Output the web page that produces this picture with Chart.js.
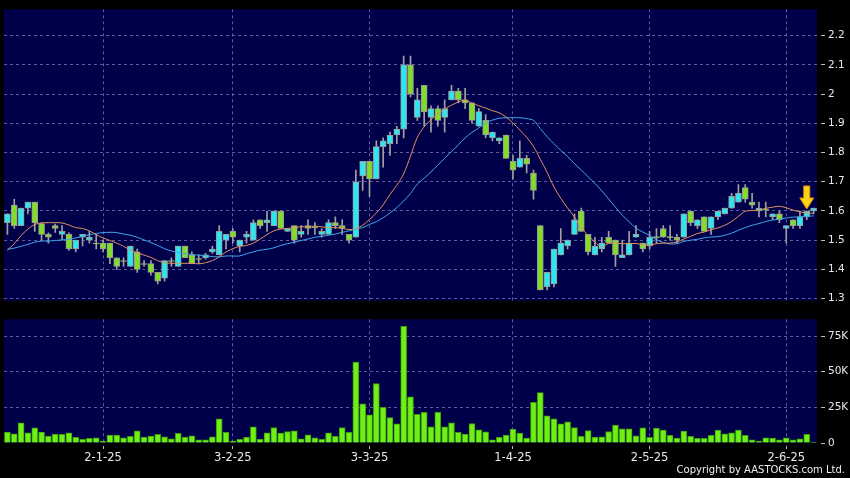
<!DOCTYPE html>
<html lang="en">
<head>
    <meta charset="UTF-8">
    <title>Candlestick chart</title>
    <script src="https://cdn.jsdelivr.net/npm/chart.js"></script>
    <style>
        body { margin: 0; background: #000; }
        #wrap { position: relative; width: 850px; height: 478px; background: #000; overflow: hidden; }
        #price { position: absolute; left: 0; top: 0; }
        #volume { position: absolute; left: 0; top: 310px; }
        #copy { position: absolute; right: 5px; top: 463px; font: 10px "DejaVu Sans", sans-serif; color: #eee; line-height: 14px; }
    </style>
</head>
<body>
<div id="wrap">
    <canvas id="price" width="850" height="310"></canvas>
    <canvas id="volume" width="850" height="168"></canvas>
    <div id="copy">Copyright by AASTOCKS.com Ltd.</div>
</div>
<script>
    const dates = [
        '10-12-24','11-12-24','12-12-24','13-12-24','16-12-24','17-12-24','18-12-24','19-12-24','20-12-24','23-12-24','24-12-24','27-12-24','30-12-24','31-12-24',
        '2-1-25','3-1-25','6-1-25','7-1-25','8-1-25','9-1-25','10-1-25','13-1-25','14-1-25','15-1-25','16-1-25','17-1-25','20-1-25','21-1-25','22-1-25','23-1-25','24-1-25','27-1-25','28-1-25',
        '3-2-25','4-2-25','5-2-25','6-2-25','7-2-25','10-2-25','11-2-25','12-2-25','13-2-25','14-2-25','17-2-25','18-2-25','19-2-25','20-2-25','21-2-25','24-2-25','25-2-25','26-2-25','27-2-25','28-2-25',
        '3-3-25','4-3-25','5-3-25','6-3-25','7-3-25','10-3-25','11-3-25','12-3-25','13-3-25','14-3-25','17-3-25','18-3-25','19-3-25','20-3-25','21-3-25','24-3-25','25-3-25','26-3-25','27-3-25','28-3-25','31-3-25',
        '1-4-25','2-4-25','3-4-25','7-4-25','8-4-25','9-4-25','10-4-25','11-4-25','14-4-25','15-4-25','16-4-25','17-4-25','21-4-25','22-4-25','23-4-25','24-4-25','25-4-25','28-4-25','29-4-25','30-4-25',
        '2-5-25','6-5-25','7-5-25','8-5-25','9-5-25','12-5-25','13-5-25','14-5-25','15-5-25','16-5-25','19-5-25','20-5-25','21-5-25','22-5-25','23-5-25','26-5-25','27-5-25','28-5-25','29-5-25','30-5-25',
        '2-6-25','3-6-25','4-6-25','5-6-25','6-6-25'
    ];
    const tickDates = ['2-1-25', '3-2-25', '3-3-25', '1-4-25', '2-5-25', '2-6-25'];

    const open = [
        1.56,1.62,1.55,1.61,1.63,1.557,1.52,1.55,1.52,1.52,
        1.47,1.51,1.50,1.49,1.49,1.49,1.44,1.43,1.41,1.46,
        1.42,1.42,1.39,1.37,1.43,1.41,1.48,1.45,1.437,1.44,
        1.46,1.45,1.50,1.53,1.48,1.51,1.50,1.57,1.56,1.55,
        1.60,1.53,1.55,1.52,1.55,1.546,1.52,1.52,1.56,1.55,
        1.52,1.51,1.72,1.77,1.71,1.82,1.83,1.86,1.88,2.10,
        1.92,2.03,1.92,1.95,1.92,1.98,2.01,1.98,1.97,1.89,
        1.91,1.85,1.84,1.86,1.77,1.75,1.78,1.73,1.55,1.34,
        1.35,1.45,1.48,1.52,1.60,1.52,1.45,1.47,1.51,1.50,
        1.44,1.45,1.51,1.49,1.48,1.512,1.54,1.512,1.51,1.51,
        1.60,1.55,1.58,1.54,1.58,1.59,1.61,1.63,1.68,1.63,
        1.60,1.606,1.58,1.59,1.54,1.57,1.55,1.58,1.60
    ];
    const high = [
        1.59,1.64,1.61,1.63,1.63,1.56,1.525,1.555,1.55,1.525,
        1.50,1.52,1.53,1.52,1.50,1.49,1.44,1.44,1.48,1.47,
        1.43,1.43,1.39,1.43,1.44,1.48,1.48,1.46,1.45,1.455,
        1.48,1.55,1.52,1.54,1.50,1.53,1.57,1.57,1.60,1.60,
        1.60,1.54,1.55,1.55,1.57,1.56,1.54,1.57,1.58,1.57,
        1.52,1.74,1.77,1.77,1.84,1.85,1.87,1.89,2.13,2.13,
        2.02,2.03,1.96,1.96,1.98,2.03,2.02,2.02,1.97,1.95,
        1.93,1.87,1.85,1.86,1.79,1.84,1.79,1.74,1.55,1.39,
        1.47,1.54,1.50,1.59,1.61,1.52,1.51,1.51,1.53,1.50,
        1.50,1.53,1.55,1.49,1.53,1.54,1.55,1.55,1.52,1.59,
        1.60,1.57,1.58,1.58,1.60,1.61,1.66,1.69,1.69,1.66,
        1.63,1.63,1.59,1.60,1.55,1.57,1.60,1.60,1.61
    ];
    const low = [
        1.52,1.54,1.55,1.59,1.53,1.50,1.49,1.527,1.50,1.465,
        1.46,1.48,1.49,1.47,1.46,1.42,1.40,1.41,1.41,1.39,
        1.41,1.38,1.35,1.36,1.41,1.41,1.44,1.42,1.42,1.435,
        1.455,1.45,1.47,1.49,1.46,1.49,1.50,1.54,1.53,1.55,
        1.54,1.53,1.49,1.51,1.52,1.52,1.51,1.52,1.54,1.52,
        1.49,1.51,1.67,1.65,1.71,1.75,1.79,1.83,1.85,1.99,
        1.91,1.89,1.87,1.89,1.87,1.98,1.97,1.95,1.90,1.89,
        1.85,1.84,1.83,1.78,1.71,1.75,1.73,1.64,1.33,1.33,
        1.34,1.45,1.47,1.52,1.53,1.45,1.45,1.46,1.49,1.41,
        1.44,1.45,1.51,1.46,1.47,1.49,1.51,1.50,1.49,1.51,
        1.55,1.54,1.53,1.52,1.57,1.59,1.61,1.63,1.63,1.61,
        1.58,1.58,1.57,1.56,1.49,1.54,1.54,1.57,1.59
    ];
    const close = [
        1.59,1.55,1.61,1.63,1.56,1.52,1.51,1.54,1.53,1.47,
        1.50,1.52,1.51,1.487,1.47,1.44,1.41,1.427,1.48,1.40,
        1.417,1.39,1.36,1.43,1.427,1.48,1.44,1.42,1.434,1.45,
        1.47,1.53,1.52,1.51,1.50,1.52,1.56,1.55,1.57,1.60,
        1.54,1.54,1.50,1.53,1.54,1.543,1.53,1.56,1.55,1.54,
        1.50,1.70,1.77,1.71,1.82,1.84,1.86,1.88,2.10,2.00,
        1.98,1.94,1.95,1.91,1.95,2.01,1.98,1.97,1.91,1.94,
        1.86,1.87,1.85,1.78,1.74,1.78,1.76,1.67,1.33,1.39,
        1.47,1.49,1.50,1.57,1.53,1.46,1.48,1.49,1.49,1.45,
        1.45,1.49,1.52,1.47,1.51,1.509,1.51,1.509,1.50,1.59,
        1.56,1.57,1.53,1.58,1.60,1.61,1.65,1.66,1.64,1.62,
        1.61,1.603,1.59,1.57,1.55,1.55,1.58,1.60,1.61
    ];
    const ma10 = [
        1.466,1.488,1.516,1.538,1.554,1.559,1.560,1.560,1.559,1.552,
        1.543,1.540,1.532,1.519,1.508,1.499,1.490,1.479,1.466,1.457,
        1.449,1.441,1.430,1.423,1.421,1.421,1.421,1.421,1.419,1.423,
        1.430,1.443,1.460,1.471,1.479,1.482,1.490,1.504,1.519,1.532,
        1.538,1.540,1.543,1.546,1.546,1.548,1.546,1.543,1.543,1.541,
        1.536,1.540,1.551,1.571,1.593,1.621,1.657,1.688,1.727,1.788,
        1.852,1.888,1.912,1.932,1.949,1.962,1.973,1.980,1.969,1.960,
        1.952,1.943,1.936,1.921,1.901,1.877,1.852,1.821,1.777,1.732,
        1.682,1.643,1.610,1.579,1.543,1.516,1.493,1.477,1.489,1.490,
        1.488,1.488,1.489,1.484,1.483,1.488,1.490,1.490,1.494,1.504,
        1.513,1.523,1.528,1.536,1.542,1.551,1.564,1.582,1.599,1.602,
        1.603,1.609,1.613,1.616,1.611,1.603,1.597,1.593,1.592
    ];
    const ma20 = [
        1.469,1.473,1.479,1.486,1.493,1.497,1.497,1.499,1.501,1.503,
        1.508,1.513,1.519,1.523,1.526,1.527,1.526,1.521,1.517,1.510,
        1.501,1.492,1.482,1.471,1.463,1.458,1.454,1.451,1.449,1.447,
        1.444,1.443,1.446,1.446,1.446,1.454,1.460,1.466,1.469,1.474,
        1.482,1.488,1.493,1.499,1.504,1.510,1.513,1.517,1.521,1.527,
        1.532,1.538,1.543,1.554,1.563,1.577,1.593,1.612,1.634,1.660,
        1.692,1.712,1.734,1.757,1.780,1.803,1.826,1.850,1.869,1.884,
        1.901,1.911,1.917,1.919,1.919,1.919,1.916,1.910,1.882,1.854,
        1.830,1.807,1.786,1.762,1.740,1.717,1.694,1.669,1.641,1.613,
        1.586,1.563,1.541,1.528,1.516,1.502,1.492,1.487,1.488,1.496,
        1.500,1.503,1.508,1.511,1.512,1.517,1.524,1.534,1.543,1.551,
        1.557,1.564,1.569,1.572,1.576,1.579,1.580,1.582,1.583
    ];
    const volume = [
        7600,6500,14100,7200,10600,7600,4900,6300,6000,7200,
        3900,2500,3200,3700,1400,5600,5600,3700,4600,8600,
        4200,4900,6000,4400,3000,6700,4200,5100,2300,2300,
        4400,16900,7400,1400,2500,4200,11300,2800,7200,10900,
        6900,8100,8600,3000,5800,3700,2500,7200,4600,10900,
        7400,56700,27500,19700,41700,25000,17800,13400,81900,32400,
        20100,21500,11300,21600,11400,14200,7400,6300,13700,9300,
        7900,2300,4000,5600,9800,7000,3500,28600,35300,19100,
        17000,13500,14900,10900,4700,8800,4200,4400,8100,12600,
        10000,10000,5100,10700,4000,10500,9100,5300,3500,8400,
        4700,3300,3300,5300,9100,6500,7200,9100,5300,2300,
        1400,3700,3500,2300,3700,2300,3000,6000,700
    ];
    const priceTicks = [1.3, 1.4, 1.5, 1.6, 1.7, 1.8, 1.9, 2, 2.1, 2.2];
    const volumeTicks = [0, 25000, 50000, 75000];
    const arrowIndex = 117;

    const upColor = '#2ee6f0';
    const downColor = '#82dc2a';
    const gridColor = 'rgba(120,120,185,0.75)';
    const textColor = '#e8e8e8';

    const plotBg = {
        id: 'plotBg',
        beforeDraw(chart) {
            const a = chart.chartArea;
            const ctx = chart.ctx;
            ctx.save();
            ctx.fillStyle = '#00004a';
            ctx.fillRect(a.left, a.top, a.right - a.left, a.bottom - a.top);
            ctx.restore();
        }
    };

    const arrow = {
        id: 'arrow',
        afterDatasetsDraw(chart) {
            const x = chart.scales.x.getPixelForValue(arrowIndex);
            const y = chart.scales.y.getPixelForValue(high[arrowIndex]) - 2;
            const ctx = chart.ctx;
            ctx.save();
            ctx.beginPath();
            ctx.moveTo(x - 3, y - 23);
            ctx.lineTo(x + 3, y - 23);
            ctx.lineTo(x + 3, y - 11);
            ctx.lineTo(x + 7, y - 11);
            ctx.lineTo(x, y);
            ctx.lineTo(x - 7, y - 11);
            ctx.lineTo(x - 3, y - 11);
            ctx.closePath();
            ctx.fillStyle = '#ffd21a';
            ctx.fill();
            ctx.strokeStyle = '#e08a00';
            ctx.lineWidth = 1;
            ctx.stroke();
            ctx.restore();
        }
    };

    function keepDateTicks(axis) {
        axis.ticks = axis.ticks.filter(t => tickDates.includes(dates[t.value]));
    }

    new Chart(document.getElementById('price'), {
        type: 'bar',
        data: {
            labels: dates,
            datasets: [
                { type: 'line', data: ma10, borderColor: '#e0925e', borderWidth: 1, pointRadius: 0, tension: 0.3, order: 0 },
                { type: 'line', data: ma20, borderColor: '#40a8ee', borderWidth: 1, pointRadius: 0, tension: 0.3, order: 0 },
                {
                    data: open.map((o, i) => [o, close[i]]),
                    backgroundColor: close.map((c, i) => c >= open[i] ? upColor : downColor),
                    borderColor: '#9a9a9a',
                    borderWidth: 1,
                    borderSkipped: false,
                    grouped: false,
                    barThickness: 6,
                    order: 1
                },
                {
                    data: low.map((l, i) => [l, high[i]]),
                    backgroundColor: '#a0a0a0',
                    barThickness: 1,
                    grouped: false,
                    order: 2
                }
            ]
        },
        options: {
            responsive: false,
            animation: false,
            events: [],
            layout: { padding: { left: 4, top: 6, bottom: 5, right: 0 } },
            plugins: { legend: { display: false }, tooltip: { enabled: false } },
            scales: {
                x: {
                    offset: true,
                    grid: { offset: false, color: gridColor, drawTicks: false },
                    border: { display: false, dash: [3, 3] },
                    ticks: { display: false, autoSkip: false },
                    afterBuildTicks: keepDateTicks,
                    afterFit: a => { a.height = 0; }
                },
                y: {
                    position: 'right',
                    min: 1.293,
                    max: 2.29,
                    afterBuildTicks: a => { a.ticks = priceTicks.map(v => ({ value: v })); },
                    grid: { color: gridColor, tickColor: '#bbbbbb', tickLength: 8, tickBorderDash: [4, 4], tickBorderDashOffset: 4 },
                    border: { display: false, dash: [3, 3] },
                    ticks: { color: textColor, padding: 3, font: { family: 'DejaVu Sans', size: 10.5 }, callback: v => String(v) },
                    afterFit: a => { a.width = 33; }
                }
            }
        },
        plugins: [plotBg, arrow]
    });

    new Chart(document.getElementById('volume'), {
        type: 'bar',
        data: {
            labels: dates,
            datasets: [{
                data: volume,
                backgroundColor: '#6ef014',
                borderColor: '#3d9a0c',
                borderWidth: 1,
                borderSkipped: 'bottom',
                barThickness: 6
            }]
        },
        options: {
            responsive: false,
            animation: false,
            events: [],
            layout: { padding: { left: 4, top: 8, bottom: 0, right: 0 } },
            plugins: { legend: { display: false }, tooltip: { enabled: false } },
            scales: {
                x: {
                    offset: true,
                    grid: { offset: false, color: gridColor, tickColor: '#bbbbbb', tickLength: 7, tickBorderDash: [3, 3], tickBorderDashOffset: 3 },
                    border: { display: false, dash: [3, 3] },
                    ticks: { autoSkip: false, maxRotation: 0, color: textColor, padding: 1, font: { family: 'DejaVu Sans', size: 11.5 } },
                    afterBuildTicks: keepDateTicks,
                    afterFit: a => { a.height = 35; }
                },
                y: {
                    position: 'right',
                    min: 0,
                    max: 86800,
                    afterBuildTicks: a => { a.ticks = volumeTicks.map(v => ({ value: v })); },
                    grid: {
                        color: ctx => ctx.tick && ctx.tick.value === 0 ? 'rgba(0,0,0,0)' : gridColor,
                        tickColor: '#bbbbbb', tickLength: 8, tickBorderDash: [4, 4], tickBorderDashOffset: 4
                    },
                    border: { display: false, dash: [3, 3] },
                    ticks: { color: textColor, padding: 3, font: { family: 'DejaVu Sans', size: 10.5 }, callback: v => v === 0 ? '0' : (v / 1000) + 'K' },
                    afterFit: a => { a.width = 33; }
                }
            }
        },
        plugins: [plotBg]
    });
</script>
</body>
</html>
